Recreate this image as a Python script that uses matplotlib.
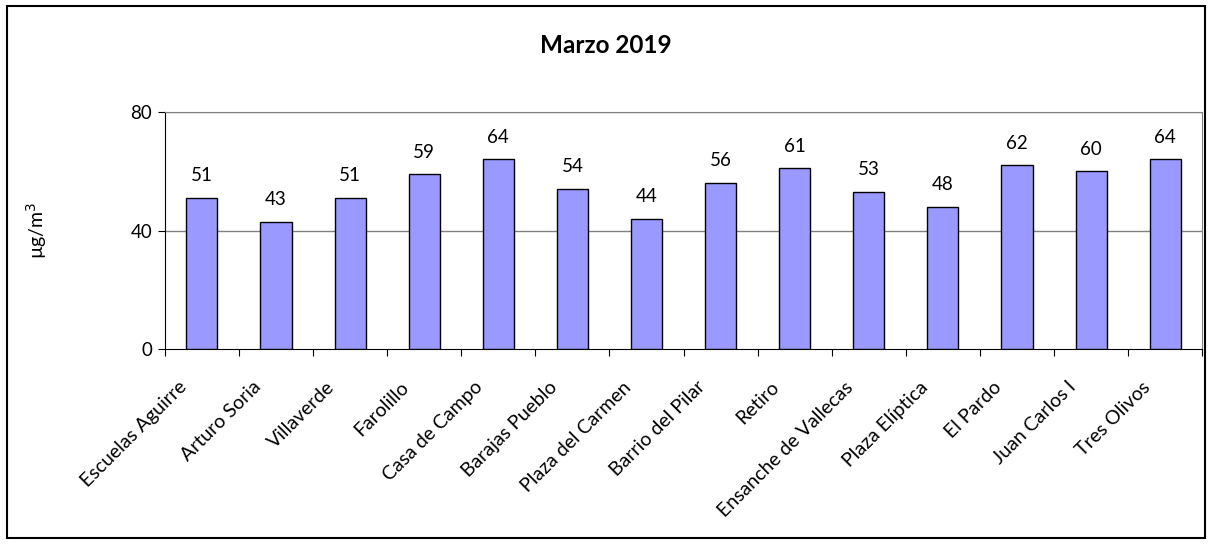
import matplotlib
matplotlib.use("Agg")
import matplotlib.pyplot as plt
from matplotlib.patches import Rectangle
from matplotlib.transforms import ScaledTranslation

plt.rcParams["font.family"] = ["Lato", "DejaVu Sans"]

stations = ["Escuelas Aguirre", "Arturo Soria", "Villaverde", "Farolillo",
            "Casa de Campo", "Barajas Pueblo", "Plaza del Carmen",
            "Barrio del Pilar", "Retiro", "Ensanche de Vallecas",
            "Plaza Elíptica", "El Pardo", "Juan Carlos I", "Tres Olivos"]
values = [51, 43, 51, 59, 64, 54, 44, 56, 61, 53, 48, 62, 60, 64]
yticks = [0, 40, 80]

fig = plt.figure(figsize=(12.12, 5.44), dpi=100)
ax = fig.add_axes([0.136, 0.3585, 0.856, 0.4355])

x = range(len(stations))
ax.bar(x, values, width=0.42, color="#9999FF", edgecolor="black",
       linewidth=1.0, zorder=3)
for i, v in enumerate(values):
    ax.text(i, v + 7.5, f"{v}", ha="center", va="center", fontsize=13.5)

ax.set_xlim(-0.5, len(stations) - 0.5)
ax.set_ylim(0, 80)
ax.set_yticks(yticks)
ax.tick_params(axis="y", labelsize=13.5, length=5, direction="out", pad=4)
for y in yticks[1:]:
    ax.axhline(y, color="#808080", linewidth=1.0, zorder=1)

# category-boundary ticks on the x axis
ax.set_xticks([i - 0.5 for i in range(len(stations) + 1)], minor=False)
ax.set_xticklabels([""] * (len(stations) + 1))
ax.tick_params(axis="x", length=5, direction="out")
ax.set_xticks(list(x), minor=True)
ax.set_xticklabels(stations, minor=True, rotation=45, ha="right",
                   rotation_mode="anchor", fontsize=14)
ax.tick_params(axis="x", which="minor", length=0, pad=6)
shift = ScaledTranslation(-0.24, -0.21, fig.dpi_scale_trans)
for lbl in ax.get_xticklabels(minor=True):
    lbl.set_transform(lbl.get_transform() + shift)

for s in ["top", "right"]:
    ax.spines[s].set_color("#808080")
for s in ["left", "bottom"]:
    ax.spines[s].set_color("black")

ax.set_ylabel("µg/m$^3$", fontsize=14)
ax.yaxis.set_label_coords(-0.112, 0.5)
fig.text(0.5, 0.917, "Marzo 2019", ha="center", va="center",
         fontsize=17.5, fontweight="bold")

fig.patches.append(Rectangle((0.006, 0.011), 0.988, 0.978,
                             transform=fig.transFigure, fill=False,
                             edgecolor="black", linewidth=1.5))

fig.savefig("out.png", dpi=100, facecolor="white")
